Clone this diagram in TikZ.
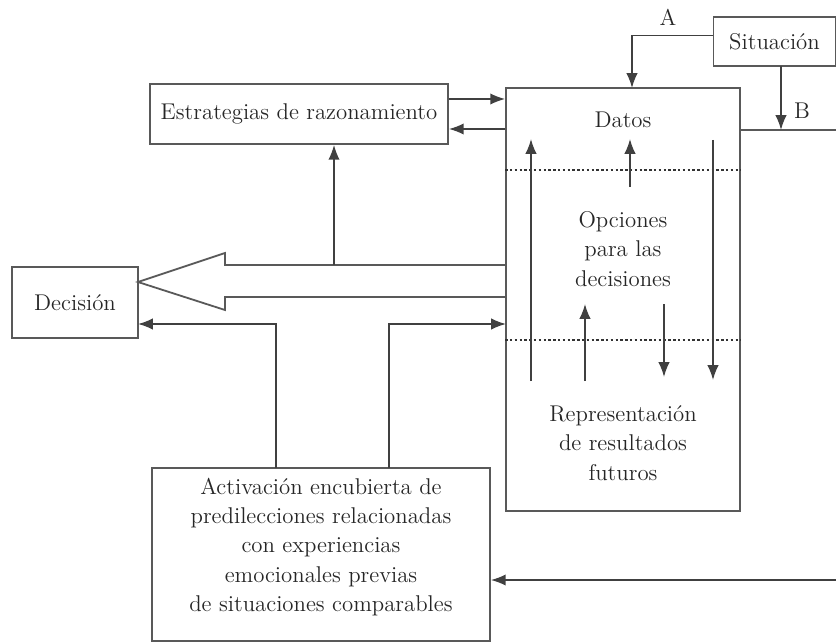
\documentclass[tikz,border=0pt]{standalone}
\usepackage{tikz}
\usetikzlibrary{arrows.meta, positioning, calc}

\begin{document}
\begin{tikzpicture}[
    x=0.5pt, y=-0.5pt,
    every node/.append style={font=\fontsize{11.4}{14.7}\selectfont, text=black!85},
  ]

  \tikzset{
    plain-box/.style={draw=black!65, line width=0.9pt, inner sep=0pt},
    flow/.style={-{Latex[length=2.6mm, width=2mm]}, draw=black!75, line width=0.8pt},
    edge-line/.style={draw=black!65, line width=0.9pt},
    split-line/.style={draw=black!80, line width=0.8pt, dash pattern=on 1.2pt off 1.2pt},
    box-text/.style={align=center, inner sep=0pt},
  }

  \useasboundingbox (0,0) rectangle (836,642);

  %% ---------------- BOXES ----------------
  \node[plain-box, minimum width=61pt, minimum height=24.5pt] (sit) at (774.5,41.5) {Situación};
  \node[plain-box, minimum width=117pt, minimum height=211.5pt] (main) at (623,299.5) {};
  \node[plain-box, minimum width=149pt, minimum height=30pt] (estr) at (299,114) {Estrategias de razonamiento};
  \node[plain-box, minimum width=63pt, minimum height=35.5pt] (dec) at (75,302.5) {Decisión};
  \node[plain-box, minimum width=169pt, minimum height=86.5pt] (act) at (321,554.5) {};

  % texts inside the big box
  \node[box-text] (datos) at (623,120) {Datos};
  \node[box-text] (opciones) at (623,249) {Opciones\\para las\\decisiones};
  \node[box-text] (repres) at (623,443) {Representación\\de resultados\\futuros};
  \node[box-text] (act-text) at (321,547) {Activación encubierta de\\predilecciones relacionadas\\con experiencias\\emocionales previas\\de situaciones comparables};

  % dotted separators
  \draw[split-line] (main.west |- 0,170) -- (main.east |- 0,170);
  \draw[split-line] (main.west |- 0,340) -- (main.east |- 0,340);

  %% ---------------- SITUATION INPUTS ----------------
  \coordinate (a-in) at (632,88);
  \draw[flow] ([yshift=3pt]sit.west) -| (a-in);
  \node (lab-a) at (668,17) {A};
  \coordinate (b-top) at (781,66);
  \coordinate (b-out) at (836,130);
  \draw[edge-line] (b-out -| main.east) -- (b-out);
  \draw[flow] (b-top) -- (b-top |- b-out);
  \node (lab-b) at (802,111) {B};

  %% ---------------- REASONING LOOP ----------------
  \draw[flow] ([yshift=7.5pt]estr.east) -- ([yshift=7.5pt]estr.east -| main.west);
  \draw[flow] ([yshift=-7.5pt]estr.east -| main.west) -- ([yshift=-7.5pt]estr.east);

  %% ---------------- BIG ARROW TO DECISION ----------------
  \draw[edge-line] (506,265) -- (225,265) -- (225,253) -- (138,282)
    -- (225,310) -- (225,297) -- (506,297);
  \coordinate (shaft-top) at (334,265);
  \draw[flow] (shaft-top) -- (shaft-top |- estr.south);

  %% ---------------- FLOWS INSIDE THE BIG BOX ----------------
  \foreach \x/\ya/\yb in {531/381/139, 630/187/139, 585/381/304, 713/140/380, 664/304/377}
    \draw[flow] (\x,\ya) -- (\x,\yb);

  %% ---------------- SOMATIC ACTIVATION ----------------
  \coordinate (act-l) at (276,468);
  \coordinate (act-r) at (389,468);
  \coordinate (dec-in) at (138,324);
  \coordinate (main-in) at (506,324);
  \draw[flow] (act-l) |- (dec-in);
  \draw[flow] (act-r) |- (main-in);
  \coordinate (c-in) at (836,580);
  \draw[flow] (c-in) -- (c-in -| act.east);

\end{tikzpicture}
\end{document}
